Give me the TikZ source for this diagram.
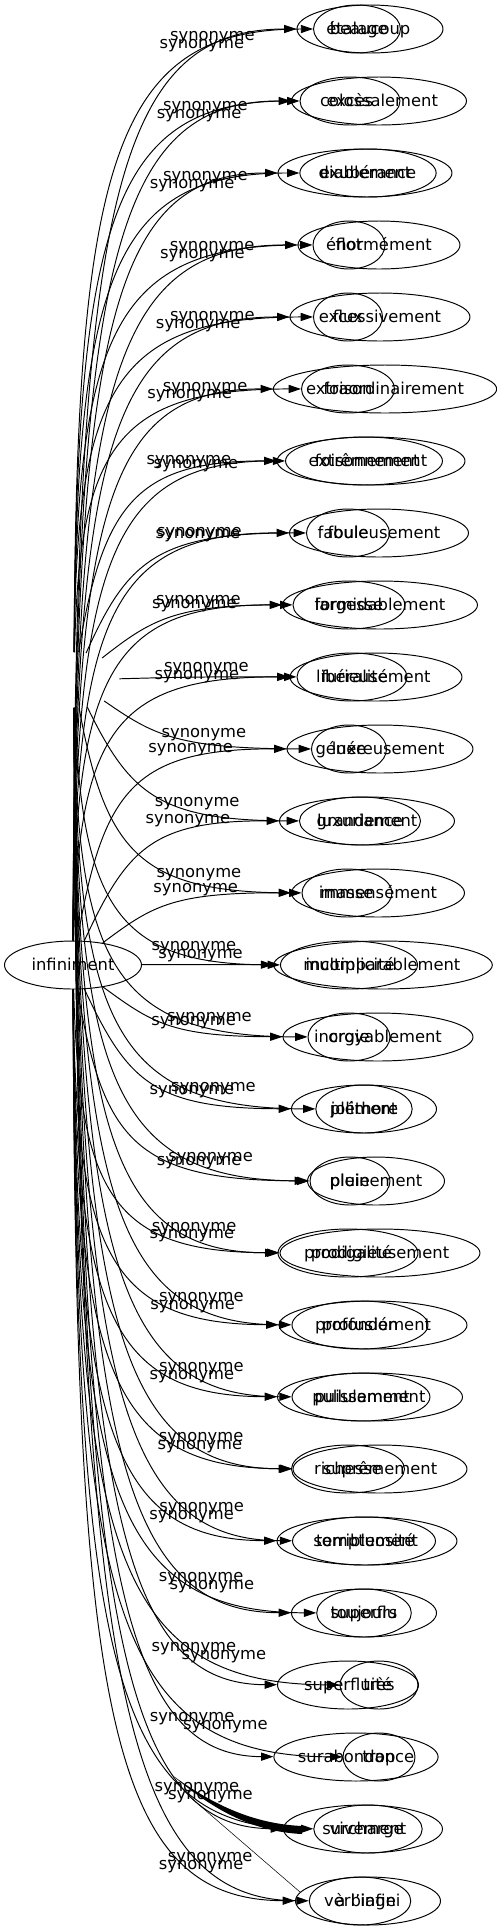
\documentclass[tikz,border=0pt]{standalone}
\usepackage{fontspec}
\setmainfont{DejaVu Sans}
\usetikzlibrary{arrows.meta,shapes.geometric}
\tikzset{
  mot/.style={draw,ellipse,inner sep=0pt,minimum height=0.96cm,minimum width=#1*0.02cm,
              text height=1.55ex,text depth=0.35ex,font=\fontsize{9.3}{11}\selectfont},
  cache/.style={ellipse,inner sep=0pt,minimum width=1.8cm,minimum height=1.1cm},
  fleche/.style={-{Triangle[length=7pt,width=4.6pt]}},
  etiq/.style={font=\fontsize{9.3}{11}\selectfont,above,inner sep=1pt},
}
\begin{document}
\begin{tikzpicture}[x=0.02cm,y=-0.02cm,line width=0.55pt]
  \useasboundingbox (0,0) rectangle (497,1931);
  % sources
  \node[mot=137] (inf) at (73,965) {infiniment};
  \node[cache] (src) at (74,680) {};
  % rangees de mots
  \node[mot=146] (i1) at (370,29) {beaucoup};
  \node[mot=83] (p1) at (357,29) {étalage};
  \node[mot=175] (i2) at (379,101) {colossalement};
  \node[mot=100] (p2) at (350,101) {excès};
  \node[mot=174] (i3) at (365,173) {diablement};
  \node[mot=123] (p3) at (368,173) {exubérance};
  \node[mot=162] (i4) at (379,245) {énormément};
  \node[mot=72] (p4) at (349,245) {flot};
  \node[mot=180] (i5) at (380,317) {excessivement};
  \node[mot=69] (p5) at (348,317) {flux};
  \node[mot=214] (i6) at (385,389) {extraordinairement};
  \node[mot=93] (p6) at (348,389) {foison};
  \node[mot=142] (i7) at (364,461) {extrêmement};
  \node[mot=188] (p7) at (371,461) {foisonnement};
  \node[mot=179] (i8) at (379,533) {fabuleusement};
  \node[mot=83] (p8) at (348,533) {foule};
  \node[mot=195] (i9) at (380,605) {formidablement};
  \node[mot=112] (p9) at (349,605) {largesse};
  \node[mot=172] (i10) at (376,677) {furieusement};
  \node[mot=110] (p10) at (352,677) {libéralité};
  \node[mot=186] (i11) at (380,749) {généreusement};
  \node[mot=75] (p11) at (349,749) {luxe};
  \node[mot=175] (i12) at (367,821) {grandement};
  \node[mot=114] (p12) at (360,821) {luxuriance};
  \node[mot=173] (i13) at (378,893) {immensément};
  \node[mot=90] (p13) at (347,893) {masse};
  \node[mot=213] (i14) at (383,965) {incomparablement};
  \node[mot=137] (p14) at (349,965) {multiplicité};
  \node[mot=190] (i15) at (378,1037) {incroyablement};
  \node[mot=82] (p15) at (349,1037) {orgie};
  \node[mot=145] (i16) at (364,1109) {joliment};
  \node[mot=83] (p16) at (364,1109) {pléthore};
  \node[mot=137] (i17) at (376,1181) {pleinement};
  \node[mot=80] (p17) at (350,1181) {pluie};
  \node[mot=200] (i18) at (380,1253) {prodigieusement};
  \node[mot=140] (p18) at (348,1253) {prodigalité};
  \node[mot=188] (i19) at (373,1325) {profondément};
  \node[mot=136] (p19) at (360,1325) {profusion};
  \node[mot=185] (i20) at (370,1397) {puissamment};
  \node[mot=128] (p20) at (361,1397) {pullulement};
  \node[mot=174] (i21) at (380,1469) {suprêmement};
  \node[mot=113] (p21) at (348,1469) {richesse};
  \node[mot=180] (i22) at (367,1541) {terriblement};
  \node[mot=125] (p22) at (364,1541) {somptuosité};
  \node[mot=83] (i23) at (364,1613) {toujours};
  \node[mot=145] (p23) at (364,1613) {superflu};
  \node[mot=78] (i24) at (379,1685) {très};
  \node[mot=141] (p24) at (348,1685) {superfluité};
  \node[mot=72] (i25) at (379,1757) {trop};
  \node[mot=158] (p25) at (356,1757) {surabondance};
  \node[mot=101] (i26) at (368,1829) {vivement};
  \node[mot=159] (p26) at (363,1829) {surcharge};
  \node[mot=145] (i27) at (368,1901) {à l'infini};
  \node[mot=84] (p27) at (360,1901) {verbiage};
  % aretes
  \foreach \k in {1,...,27}{
    \pgfmathsetmacro\yt{29+71.96*(\k-1)}
    \pgfmathsetmacro\f{max(0,1-abs(\yt-965)/300)}
    \pgfmathsetmacro\cax{75+100*\f}
    \pgfmathsetmacro\cay{\yt+0.2*(965-\yt)}
    \pgfmathsetmacro\cbx{110+80*\f}
    \pgfmathsetmacro\ps{0.8-0.2*\f}
    \draw[fleche] (inf) .. controls (\cax,\cay) and (\cbx,\yt) .. (i\k)
      node[etiq,pos=\ps] (ei\k) {synonyme};
    \pgfmathsetmacro\f{max(0,1-abs(\yt-680)/300)}
    \pgfmathsetmacro\cax{76+100*\f}
    \pgfmathsetmacro\cay{\yt+0.2*(680-\yt)}
    \pgfmathsetmacro\cbx{115+80*\f}
    \pgfmathsetmacro\ps{0.8-0.2*\f}
    \draw[fleche] (src) .. controls (\cax,\cay) and (\cbx,\yt) .. (p\k)
      node[etiq,pos=\ps] (ep\k) {synonyme};
  }
  % coin noir du bas
  \fill (172,1775) .. controls (220,1810) and (260,1824) .. (302,1826)
    -- (302,1834) .. controls (260,1832) and (220,1816) .. (172,1775) -- cycle;
  \draw[line width=0.3pt] (190,1797) -- (300,1892);
\end{tikzpicture}
\end{document}
